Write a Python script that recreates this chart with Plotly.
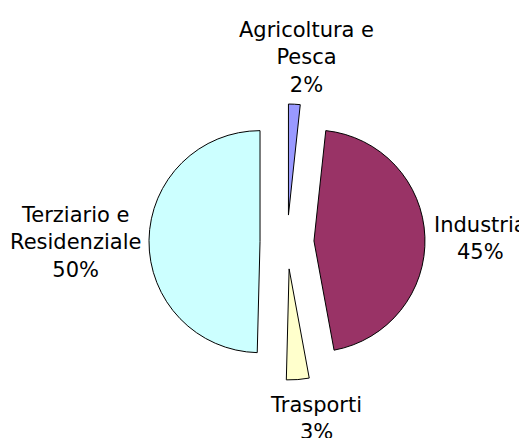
import plotly.graph_objects as go

labels = ["Agricoltura e<br>Pesca", "Industria", "Trasporti", "Terziario e<br>Residenziale"]
values = [1.7, 45.4, 3.3, 49.6]
colors = ["#9999FF", "#993366", "#FFFFCC", "#CCFFFF"]
pulls = [0.243, 0.243, 0.243, 0.243]

# label block centres (pixels in the figure, top-left origin)
label_x = [298, 472, 308, 67]
label_y = [50, 230, 410, 234]

W, H = 527, 438
cx, cy, half = 279, 234, 138

total = sum(values)
percents = [round(v / total * 100) for v in values]

fig = go.Figure(go.Pie(
    labels=labels,
    values=values,
    marker=dict(colors=colors, line=dict(color="#000000", width=1)),
    pull=pulls,
    sort=False,
    direction="clockwise",
    rotation=0,
    textinfo="none",
    hoverinfo="label+percent",
    showlegend=False,
    domain=dict(x=[(cx - half) / W, (cx + half) / W],
                y=[(H - cy - half) / H, (H - cy + half) / H]),
))

for lab, p, lx, ly in zip(labels, percents, label_x, label_y):
    fig.add_annotation(
        text=f"{lab}<br>{p}%",
        x=lx / W, y=1 - ly / H, xref="paper", yref="paper",
        xanchor="center", yanchor="middle", align="center",
        showarrow=False,
        font=dict(family="DejaVu Sans", size=21, color="#000000"),
    )

fig.update_layout(
    width=W, height=H,
    margin=dict(l=0, r=0, t=0, b=0),
    paper_bgcolor="#FFFFFF",
    plot_bgcolor="#FFFFFF",
)

fig.write_html("out.html")
